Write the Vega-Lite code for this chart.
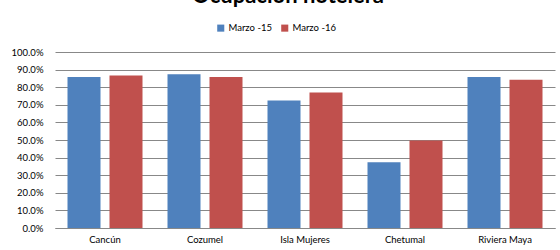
{
  "$schema": "https://vega.github.io/schema/vega-lite/v6.json",
  "autosize": "none",
  "width": 500,
  "height": 176,
  "padding": {"left": 55, "top": 52, "right": 5, "bottom": 22},
  "background": "white",
  "title": {
    "text": "Ocupación hotelera",
    "font": "Lato",
    "fontSize": 22,
    "fontWeight": "bold",
    "color": "#000000",
    "anchor": "middle",
    "dx": -17,
    "baseline": "alphabetic",
    "offset": -2
  },
  "data": {
    "values": [
      {"lugar": "Cancún", "serie": "Marzo -15", "valor": 0.858},
      {"lugar": "Cancún", "serie": "Marzo -16", "valor": 0.867},
      {"lugar": "Cozumel", "serie": "Marzo -15", "valor": 0.873},
      {"lugar": "Cozumel", "serie": "Marzo -16", "valor": 0.858},
      {"lugar": "Isla Mujeres", "serie": "Marzo -15", "valor": 0.725},
      {"lugar": "Isla Mujeres", "serie": "Marzo -16", "valor": 0.770},
      {"lugar": "Chetumal", "serie": "Marzo -15", "valor": 0.374},
      {"lugar": "Chetumal", "serie": "Marzo -16", "valor": 0.497},
      {"lugar": "Riviera Maya", "serie": "Marzo -15", "valor": 0.858},
      {"lugar": "Riviera Maya", "serie": "Marzo -16", "valor": 0.843}
    ]
  },
  "mark": {"type": "bar"},
  "encoding": {
    "x": {
      "field": "lugar",
      "type": "nominal",
      "sort": null,
      "title": null,
      "scale": {"paddingInner": 0.25, "paddingOuter": 0.125},
      "axis": {
        "labelAngle": 0,
        "ticks": false,
        "labelPadding": 6,
        "labelFont": "Lato",
        "labelFontSize": 9.5,
        "labelColor": "#000000",
        "domainColor": "#888888"
      }
    },
    "xOffset": {
      "field": "serie",
      "type": "nominal",
      "scale": {"paddingInner": 0.214, "paddingOuter": 0}
    },
    "y": {
      "field": "valor",
      "type": "quantitative",
      "title": null,
      "scale": {"domain": [0, 1], "nice": false},
      "axis": {
        "format": ".1%",
        "values": [0, 0.1, 0.2, 0.3, 0.4, 0.5, 0.6, 0.7, 0.8, 0.9, 1.0],
        "ticks": false,
        "domain": false,
        "labelPadding": 12,
        "labelFont": "Lato",
        "labelFontSize": 9.5,
        "labelColor": "#000000",
        "gridColor": "#888888",
        "gridWidth": 1
      }
    },
    "color": {
      "field": "serie",
      "type": "nominal",
      "title": null,
      "scale": {"domain": ["Marzo -15", "Marzo -16"], "range": ["#4F81BD", "#C0504D"]},
      "legend": {
        "orient": "none",
        "direction": "horizontal",
        "legendX": 161,
        "legendY": -29,
        "symbolType": "square",
        "symbolSize": 50,
        "symbolStrokeWidth": 0,
        "labelFont": "Lato",
        "labelFontSize": 9.5,
        "labelColor": "#000000",
        "columnPadding": 8,
        "labelOffset": 3
      }
    }
  },
  "config": {"view": {"stroke": null}}
}
